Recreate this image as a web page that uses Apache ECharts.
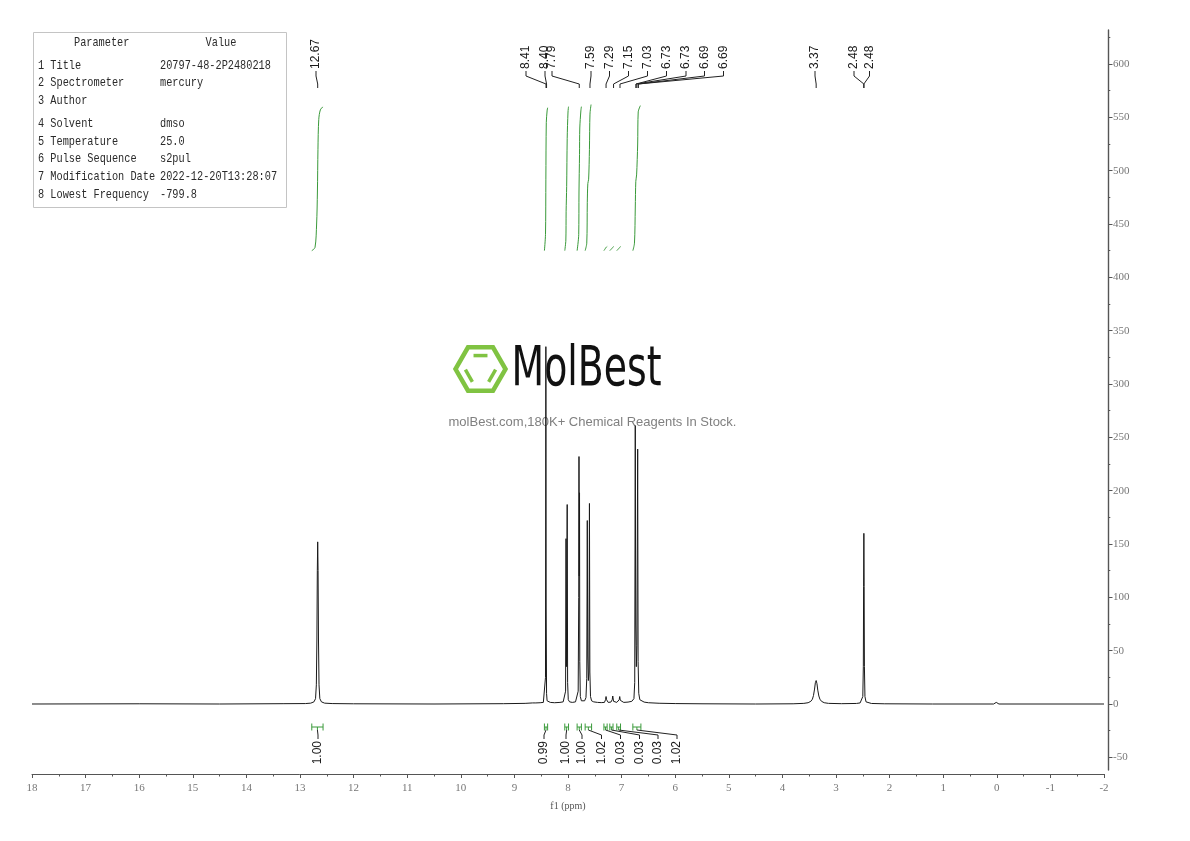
<!DOCTYPE html>
<html>
<head>
<meta charset="utf-8">
<title>20797-48-2 1H NMR</title>
<script src="https://cdn.jsdelivr.net/npm/echarts@6.0.0/dist/echarts.min.js"></script>
<style>
  html, body { margin: 0; padding: 0; background: #fff; }
  #chart { width: 1190px; height: 841px; }
</style>
</head>
<body>
<div id="chart"></div>
<script>
// spectrum, [ppm, intensity]
const spectrum = [
  [18.0, 0], [16.0, 0.2], [14.5, 0], [13.3, 0.3], [12.9, 0.4],
  [12.80, 0.8], [12.74, 2], [12.71, 5], [12.695, 18], [12.685, 60], [12.677, 125], [12.67, 152], [12.663, 125], [12.655, 60], [12.645, 18], [12.63, 5], [12.60, 2], [12.54, 0.8], [12.4, 0.4], [12.0, 0.2],
  [10.5, 0], [9.2, 0.3], [8.8, 0.6], [8.66, 1], [8.63, 2.5], [8.60, 1], [8.52, 1.2], [8.46, 1.5], [8.43, 3], [8.42, 25], [8.413, 335], [8.407, 90], [8.40, 10], [8.39, 3], [8.37, 2], [8.33, 1.5], [8.25, 1.2], [8.15, 1.5], [8.09, 2],
  [8.06, 3], [8.045, 12], [8.037, 155], [8.03, 35], [8.025, 35], [8.015, 187], [8.007, 20], [7.995, 4], [7.97, 2], [7.92, 1.5], [7.86, 2], [7.83, 3.5],
  [7.81, 12], [7.80, 100], [7.795, 232], [7.79, 120], [7.785, 198], [7.78, 40], [7.77, 7], [7.75, 3], [7.72, 2.5], [7.69, 3],
  [7.665, 6], [7.65, 24], [7.64, 172], [7.632, 45], [7.62, 22], [7.61, 30], [7.60, 188], [7.592, 30], [7.58, 7], [7.56, 3], [7.52, 2], [7.45, 1.5], [7.38, 1.3],
  [7.32, 1.5], [7.30, 4], [7.29, 7], [7.28, 4], [7.25, 1.5], [7.2, 1.8], [7.175, 4], [7.165, 7.5], [7.15, 2.5], [7.09, 1.5], [7.045, 4], [7.035, 7], [7.025, 3.5], [6.96, 1.5], [6.88, 1.8],
  [6.81, 2.5], [6.77, 5], [6.755, 20], [6.745, 261], [6.737, 75], [6.725, 35], [6.715, 55], [6.70, 239], [6.692, 40], [6.68, 10], [6.66, 4], [6.63, 2.5], [6.58, 1.8], [6.5, 1.2], [6.3, 0.7], [6.0, 0.4], [5.5, 0.2], [4.5, 0], [3.8, 0.2],
  [3.60, 0.6], [3.52, 1.2], [3.47, 2.5], [3.44, 4.5], [3.42, 8], [3.40, 14], [3.385, 20], [3.37, 22], [3.355, 19], [3.34, 13], [3.32, 7.5], [3.30, 4.5], [3.27, 2.5], [3.22, 1.2], [3.14, 0.6], [2.9, 0.3],
  [2.62, 0.5], [2.55, 1], [2.52, 2], [2.50, 7], [2.49, 35], [2.485, 110], [2.48, 160], [2.475, 110], [2.47, 35], [2.46, 7], [2.44, 2], [2.41, 1], [2.34, 0.5], [2.1, 0.2],
  [1.2, 0], [0.06, 0], [0.01, 1.5], [-0.04, 0], [-2.0, 0]
];

// integral traces (green), [ppm, height on the intensity axis]
const integralCurves = [
  [[12.78, 425], [12.72, 428], [12.69, 450], [12.675, 480], [12.665, 520], [12.65, 548], [12.62, 557], [12.57, 560]],
  [[8.44, 425], [8.42, 440], [8.413, 492], [8.405, 545], [8.39, 556], [8.38, 559]],
  [[8.06, 425], [8.04, 435], [8.035, 462], [8.025, 485], [8.015, 530], [8.0, 555], [7.99, 560]],
  [[7.83, 425], [7.80, 440], [7.795, 480], [7.785, 515], [7.78, 540], [7.76, 556], [7.75, 560]],
  [[7.68, 425], [7.65, 432], [7.64, 470], [7.63, 488], [7.615, 492], [7.60, 520], [7.59, 553], [7.57, 562]],
  [[7.33, 425], [7.29, 428], [7.27, 429]],
  [[7.22, 425], [7.165, 428], [7.15, 429]],
  [[7.09, 425], [7.035, 428], [7.02, 429]],
  [[6.79, 425], [6.76, 432], [6.745, 465], [6.735, 490], [6.72, 496], [6.70, 525], [6.69, 555], [6.65, 561]]
];

// integration ranges (ppm) and their values
const integralRanges = [[12.78, 12.57], [8.44, 8.38], [8.06, 7.99], [7.83, 7.75], [7.68, 7.56], [7.33, 7.27], [7.22, 7.16], [7.09, 7.02], [6.79, 6.64]];
const integralValues = [1.00, 0.99, 1.00, 1.00, 1.02, 0.03, 0.03, 0.03, 1.02];

// picked peaks
const peakShifts = [12.67, 8.41, 8.40, 7.79, 7.59, 7.29, 7.15, 7.03, 6.73, 6.73, 6.69, 6.69, 3.37, 2.48, 2.48];

const yTicks = [-50, 0, 50, 100, 150, 200, 250, 300, 350, 400, 450, 500, 550, 600];
const yMinorTicks = [-25, 25, 75, 125, 175, 225, 275, 325, 375, 425, 475, 525, 575, 625];

const paramNames = ['1 Title', '2 Spectrometer', '3 Author', '4 Solvent', '5 Temperature', '6 Pulse Sequence', '7 Modification Date', '8 Lowest Frequency'];
const paramValues = ['20797-48-2P2480218', 'mercury', '', 'dmso', '25.0', 's2pul', '2022-12-20T13:28:07', '-799.8'];

// layout of the annotation text (pixels)
const peakLabelX = [316, 526, 545, 552, 591, 609.5, 628.5, 647.5, 666.5, 686, 704.5, 723.5, 815, 854, 869.5];
const intLabelX = [318, 544, 566, 582, 601.5, 620.5, 639.5, 658, 677];
const tableRowY = [65.3, 83, 100.7, 123.7, 141.3, 159, 176.3, 194.7];

const GREEN = '#3a9a3a';
const chart = echarts.init(document.getElementById('chart'), null, { renderer: 'canvas' });

const axisFont = 'Liberation Serif';
const yCommon = {
    type: 'value',
    position: 'right',
    offset: 4,
    min: -61.875,
    max: 631.875,
    splitLine: { show: false }
};

chart.setOption({
    animation: false,
    backgroundColor: '#fff',
    grid: { left: 32, right: 86, top: 30, bottom: 71, outerBoundsMode: 'none' },
    xAxis: {
        type: 'value',
        min: -2,
        max: 18,
        interval: 1,
        inverse: true,
        offset: 4,
        name: 'f1 (ppm)',
        nameLocation: 'middle',
        nameGap: 27,
        nameTextStyle: { fontFamily: axisFont, fontSize: 10, color: '#555' },
        axisLine: { onZero: false, lineStyle: { color: '#555', width: 1 } },
        axisTick: { length: 4, lineStyle: { color: '#555' } },
        minorTick: { show: true, splitNumber: 2, length: 2.5, lineStyle: { color: '#555' } },
        axisLabel: { margin: 9, fontFamily: axisFont, fontSize: 11, color: '#777', showMinLabel: true, showMaxLabel: true },
        splitLine: { show: false }
    },
    yAxis: [
        Object.assign({}, yCommon, {
            axisLine: { show: true, onZero: false, lineStyle: { color: '#555', width: 1.4 } },
            axisTick: { show: true, length: 4.5, customValues: yTicks, lineStyle: { color: '#555' } },
            axisLabel: { margin: 5, customValues: yTicks, fontFamily: axisFont, fontSize: 11, color: '#777' }
        }),
        Object.assign({}, yCommon, {
            axisLine: { show: false, onZero: false },
            axisTick: { show: true, length: 2.3, customValues: yMinorTicks, lineStyle: { color: '#555' } },
            axisLabel: { show: false }
        })
    ],
    series: [{
        name: 'spectrum',
        type: 'line',
        data: spectrum,
        showSymbol: false,
        symbol: 'none',
        z: 3,
        lineStyle: { color: '#1a1a1a', width: 1 }
    }].concat(integralCurves.map((curve, i) => ({
        name: 'integral ' + (i + 1),
        type: 'line',
        data: curve,
        showSymbol: false,
        symbol: 'none',
        smooth: 0.3,
        z: 3,
        lineStyle: { color: GREEN, width: 1 }
    })))
});

// annotations placed from the axis scale
function textMeasure(font, text) {
    const ctx = document.createElement('canvas').getContext('2d');
    ctx.font = font;
    return ctx.measureText(text).width;
}

function buildGraphic() {
    const px = v => chart.convertToPixel({ xAxisIndex: 0 }, v);
    const els = [];
    const labelStyle = { fontFamily: 'Liberation Sans', fontSize: 12, fill: '#1a1a1a' };

    // parameter table
    els.push({ type: 'rect', shape: { x: 33.5, y: 32.5, width: 253, height: 175 }, style: { fill: '#fff', stroke: '#c4c4c4', lineWidth: 1 } });
    const tFont = { fontFamily: 'Liberation Mono', fontSize: 13, fill: '#2a2a2a' };
    const sx = 0.79;
    els.push({ type: 'text', x: 101.7, y: 43, scaleX: sx, style: Object.assign({ text: 'Parameter', align: 'center', verticalAlign: 'middle' }, tFont) });
    els.push({ type: 'text', x: 221, y: 43, scaleX: sx, style: Object.assign({ text: 'Value', align: 'center', verticalAlign: 'middle' }, tFont) });
    paramNames.forEach((n, i) => {
        els.push({ type: 'text', x: 38, y: tableRowY[i], scaleX: sx, style: Object.assign({ text: n, align: 'left', verticalAlign: 'middle' }, tFont) });
        els.push({ type: 'text', x: 160, y: tableRowY[i], scaleX: sx, style: Object.assign({ text: paramValues[i], align: 'left', verticalAlign: 'middle' }, tFont) });
    });

    // peak labels
    peakShifts.forEach((ppm, i) => {
        const lx = peakLabelX[i];
        const x = px(ppm);
        els.push({ type: 'text', x: lx, y: 69, rotation: Math.PI / 2,
            style: Object.assign({ text: ppm.toFixed(2), align: 'left', verticalAlign: 'middle' }, labelStyle) });
        els.push({ type: 'polyline', shape: { points: [[lx, 71], [lx, 76], [x, 84], [x, 88]] },
            style: { stroke: '#222', lineWidth: 1, fill: null } });
    });

    // integration brackets
    integralRanges.forEach((rg, i) => {
        const x1 = px(rg[0]);
        const x2 = px(rg[1]);
        const cx = (x1 + x2) / 2;
        const lx = intLabelX[i];
        const g = { stroke: GREEN, lineWidth: 1, fill: null };
        els.push({ type: 'polyline', shape: { points: [[x1, 723.5], [x1, 730.5]] }, style: g });
        els.push({ type: 'polyline', shape: { points: [[x1, 727], [x2, 727]] }, style: g });
        els.push({ type: 'polyline', shape: { points: [[x2, 723.5], [x2, 730.5]] }, style: g });
        els.push({ type: 'polyline', shape: { points: [[cx, 727], [cx, 730]] }, style: g });
        els.push({ type: 'polyline', shape: { points: [[cx, 730], [lx, 735], [lx, 739]] },
            style: { stroke: '#222', lineWidth: 1, fill: null } });
        els.push({ type: 'text', x: lx, y: 741, rotation: Math.PI / 2,
            style: Object.assign({ text: integralValues[i].toFixed(2), align: 'right', verticalAlign: 'middle' }, labelStyle) });
    });

    // watermark
    const cx = 480.5, cy = 369, R = 25;
    const hex = [];
    for (let k = 0; k < 6; k++) {
        const a = Math.PI / 3 * k;
        hex.push([cx + R * Math.cos(a), cy + R * Math.sin(a)]);
    }
    els.push({ type: 'polygon', z: -1, shape: { points: hex }, style: { fill: null, stroke: '#80c342', lineWidth: 4.5, lineJoin: 'miter' } });
    const Ri = 15.5;
    const inner = [];
    for (let k = 0; k < 6; k++) {
        const a = Math.PI / 3 * k;
        inner.push([cx + Ri * Math.cos(a), cy + Ri * Math.sin(a)]);
    }
    // bars on the top, lower-left and lower-right edges
    [[4, 5], [2, 3], [0, 1]].forEach(e => {
        const p = inner[e[0]], q = inner[e[1]];
        const t0 = 0.05, t1 = 0.95;
        els.push({ type: 'line', z: -1, shape: {
            x1: p[0] + (q[0] - p[0]) * t0, y1: p[1] + (q[1] - p[1]) * t0,
            x2: p[0] + (q[0] - p[0]) * t1, y2: p[1] + (q[1] - p[1]) * t1
        }, style: { stroke: '#80c342', lineWidth: 3.5 } });
    });
    const brandFont = '55px "DejaVu Sans"';
    const bw = textMeasure(brandFont, 'MolBest');
    els.push({ type: 'text', z: -1, x: 511.5, y: 371, scaleX: 150 / bw,
        style: { text: 'MolBest', fontFamily: 'DejaVu Sans', fontSize: 55, fill: '#111', align: 'left', verticalAlign: 'middle' } });
    els.push({ type: 'text', z: -1, x: 592.5, y: 422,
        style: { text: 'molBest.com,180K+ Chemical Reagents In Stock.', fontFamily: 'Liberation Sans', fontSize: 13, fill: '#808080', align: 'center', verticalAlign: 'middle' } });

    chart.setOption({ graphic: { elements: els } });
}

buildGraphic();
</script>
</body>
</html>
